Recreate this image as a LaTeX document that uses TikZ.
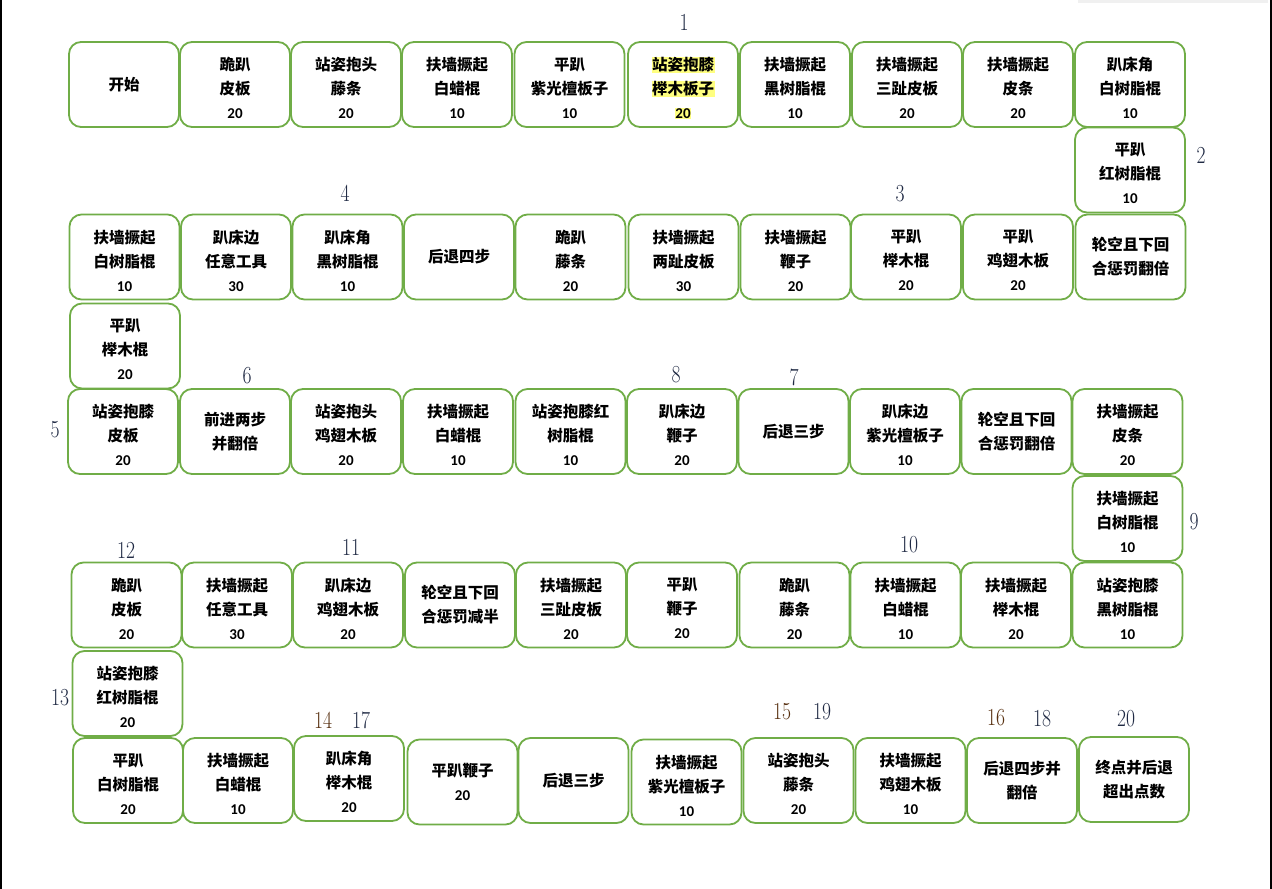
\documentclass[tikz,border=0pt]{standalone}
\usepackage{fontspec}
\usepackage{graphicx}
\newfontfamily\cjk{Noto Sans CJK SC}
\newfontfamily\numf{Carlito}
\definecolor{boxgreen}{RGB}{112,173,71}
\definecolor{lblblue}{RGB}{32,42,68}
\definecolor{lblbrown}{RGB}{88,48,16}
\definecolor{hly}{RGB}{255,255,128}
\newcommand\nm[1]{{\numf\bfseries\fontsize{15}{24}\selectfont #1}}
\newcommand\hlt[1]{{\setlength{\fboxsep}{0.5pt}\colorbox{hly}{#1}}}
% box with three text lines (text shifted slightly down)
\newcommand\cellnode[4]{\node[cell] (#1) at (#2,#3) {};
  \node[celltext] (#1t) at ([yshift=-3.5pt]#1.center) {#4};}
% box with centred text
\newcommand\cellnodec[4]{\node[cell] (#1) at (#2,#3) {};
  \node[celltext] (#1t) at (#1.center) {#4};}
\newcommand\steplbl[4]{\node[lbl,text=#4] (#1) at (#2,#3) {\scalebox{0.8}[1]{#1}};}
\tikzset{
  cell/.style={draw=boxgreen, line width=1.8pt, rounded corners=12pt,
    minimum width=110pt, minimum height=85pt, inner sep=0pt},
  celltext/.style={inner sep=0pt, align=center,
    font=\cjk\bfseries\fontsize{15.5}{24}\selectfont},
  lbl/.style={font=\fontsize{24.5}{24}\selectfont, inner sep=0pt}
}
\begin{document}
\begin{tikzpicture}[x=1pt,y=-1pt]
\useasboundingbox (0,0) rectangle (1272,889);
\fill[white] (0,0) rectangle (1272,889);
\fill[black!6] (1078,0) rectangle (1268,3);
\draw[line width=2pt] (1,0) -- (1,889);
\draw[line width=2pt] (1271,0) -- (1271,889);
% row 1
\cellnodec{a1}{124}{84.5}{开始}
\cellnode{a2}{235}{84.5}{跪趴\\皮板\\\nm{20}}
\cellnode{a3}{346}{84.5}{站姿抱头\\藤条\\\nm{20}}
\cellnode{a4}{457}{84.5}{扶墙撅起\\白蜡棍\\\nm{10}}
\cellnode{a5}{569.5}{84.5}{平趴\\紫光檀板子\\\nm{10}}
\cellnode{a6}{683}{84.5}{\hlt{站姿抱膝}\\\hlt{榉木板子}\\\hlt{\nm{20}}}
\cellnode{a7}{795}{84.5}{扶墙撅起\\黑树脂棍\\\nm{10}}
\cellnode{a8}{907}{84.5}{扶墙撅起\\三趾皮板\\\nm{20}}
\cellnode{a9}{1018}{84.5}{扶墙撅起\\皮条\\\nm{20}}
\cellnode{a10}{1130}{84.5}{趴床角\\白树脂棍\\\nm{10}}
\cellnode{a11}{1130}{170}{平趴\\红树脂棍\\\nm{10}}
% row 2
\cellnode{b10}{124.5}{257}{扶墙撅起\\白树脂棍\\\nm{10}}
\cellnode{b9}{236}{257}{趴床边\\任意工具\\\nm{30}}
\cellnode{b8}{347.5}{257}{趴床角\\黑树脂棍\\\nm{10}}
\cellnodec{b7}{459}{257}{后退四步}
\cellnode{b6}{570.5}{257}{跪趴\\藤条\\\nm{20}}
\cellnode{b5}{683.5}{257}{扶墙撅起\\两趾皮板\\\nm{30}}
\cellnode{b4}{795.5}{257}{扶墙撅起\\鞭子\\\nm{20}}
\cellnode{b3}{906}{257}{平趴\\榉木棍\\\nm{20}}
\cellnode{b2}{1018}{257}{平趴\\鸡翅木板\\\nm{20}}
\cellnodec{b1}{1130.5}{257}{轮空且下回\\合惩罚翻倍}
\cellnode{b11}{125}{346}{平趴\\榉木棍\\\nm{20}}
% row 3
\cellnode{c1}{123}{431.5}{站姿抱膝\\皮板\\\nm{20}}
\cellnodec{c2}{235}{431.5}{前进两步\\并翻倍}
\cellnode{c3}{346}{431.5}{站姿抱头\\鸡翅木板\\\nm{20}}
\cellnode{c4}{458}{431.5}{扶墙撅起\\白蜡棍\\\nm{10}}
\cellnode{c5}{570.5}{431.5}{站姿抱膝红\\树脂棍\\\nm{10}}
\cellnode{c6}{682}{431.5}{趴床边\\鞭子\\\nm{20}}
\cellnodec{c7}{793.5}{431.5}{后退三步}
\cellnode{c8}{905}{431.5}{趴床边\\紫光檀板子\\\nm{10}}
\cellnodec{c9}{1016.5}{431.5}{轮空且下回\\合惩罚翻倍}
\cellnode{c10}{1127.5}{431.5}{扶墙撅起\\皮条\\\nm{20}}
\cellnode{c11}{1127.5}{518.5}{扶墙撅起\\白树脂棍\\\nm{10}}
% row 4
\cellnode{d10}{126.5}{605}{跪趴\\皮板\\\nm{20}}
\cellnode{d9}{237}{605}{扶墙撅起\\任意工具\\\nm{30}}
\cellnode{d8}{348}{605}{趴床边\\鸡翅木板\\\nm{20}}
\cellnodec{d7}{460}{605}{轮空且下回\\合惩罚减半}
\cellnode{d6}{571}{605}{扶墙撅起\\三趾皮板\\\nm{20}}
\cellnode{d5}{682}{605}{平趴\\鞭子\\\nm{20}}
\cellnode{d4}{794.5}{605}{跪趴\\藤条\\\nm{20}}
\cellnode{d3}{905.5}{605}{扶墙撅起\\白蜡棍\\\nm{10}}
\cellnode{d2}{1016}{605}{扶墙撅起\\榉木棍\\\nm{20}}
\cellnode{d1}{1127.5}{605}{站姿抱膝\\黑树脂棍\\\nm{10}}
\cellnode{d11}{127.5}{693.5}{站姿抱膝\\红树脂棍\\\nm{20}}
% row 5
\cellnode{e1}{128}{780.5}{平趴\\白树脂棍\\\nm{20}}
\cellnode{e2}{238}{780.5}{扶墙撅起\\白蜡棍\\\nm{10}}
\cellnode{e3}{349}{778.5}{趴床角\\榉木棍\\\nm{20}}
\cellnodec{e4}{462.5}{782}{平趴鞭子\\\nm{20}}
\cellnodec{e5}{573.5}{780.5}{后退三步}
\cellnode{e6}{686.5}{782}{扶墙撅起\\紫光檀板子\\\nm{10}}
\cellnode{e7}{798.5}{780.5}{站姿抱头\\藤条\\\nm{20}}
\cellnode{e8}{910.5}{780.5}{扶墙撅起\\鸡翅木板\\\nm{10}}
\cellnodec{e9}{1022}{780.5}{后退四步并\\翻倍}
\cellnodec{e10}{1134}{779.5}{终点并后退\\超出点数}
% step numbers
\node[lbl,text=lblblue] (n1) at (684,22) {\scalebox{0.8}[1]{1}};
\node[lbl,text=lblblue] (n2) at (1201,155) {\scalebox{0.8}[1]{2}};
\node[lbl,text=lblblue] (n3) at (900,194) {\scalebox{0.8}[1]{3}};
\node[lbl,text=lblblue] (n4) at (345,193) {\scalebox{0.8}[1]{4}};
\node[lbl,text=lblblue] (n5) at (55,430) {\scalebox{0.8}[1]{5}};
\node[lbl,text=lblblue] (n6) at (247,376) {\scalebox{0.8}[1]{6}};
\node[lbl,text=lblblue] (n7) at (794,377) {\scalebox{0.8}[1]{7}};
\node[lbl,text=lblblue] (n8) at (676,375) {\scalebox{0.8}[1]{8}};
\node[lbl,text=lblblue] (n9) at (1194,522) {\scalebox{0.8}[1]{9}};
\node[lbl,text=lblblue] (n10) at (909,545) {\scalebox{0.8}[1]{10}};
\node[lbl,text=lblblue] (n11) at (351,547) {\scalebox{0.8}[1]{11}};
\node[lbl,text=lblblue] (n12) at (126,550) {\scalebox{0.8}[1]{12}};
\node[lbl,text=lblblue] (n13) at (60,698) {\scalebox{0.8}[1]{13}};
\node[lbl,text=lblbrown] (n14) at (323,720) {\scalebox{0.8}[1]{14}};
\node[lbl,text=lblblue] (n17) at (361,720) {\scalebox{0.8}[1]{17}};
\node[lbl,text=lblbrown] (n15) at (782,712) {\scalebox{0.8}[1]{15}};
\node[lbl,text=lblblue] (n19) at (822,712) {\scalebox{0.8}[1]{19}};
\node[lbl,text=lblbrown] (n16) at (996,718) {\scalebox{0.8}[1]{16}};
\node[lbl,text=lblblue] (n18) at (1042,719) {\scalebox{0.8}[1]{18}};
\node[lbl,text=lblblue] (n20) at (1126,719) {\scalebox{0.8}[1]{20}};
\end{tikzpicture}
\end{document}
